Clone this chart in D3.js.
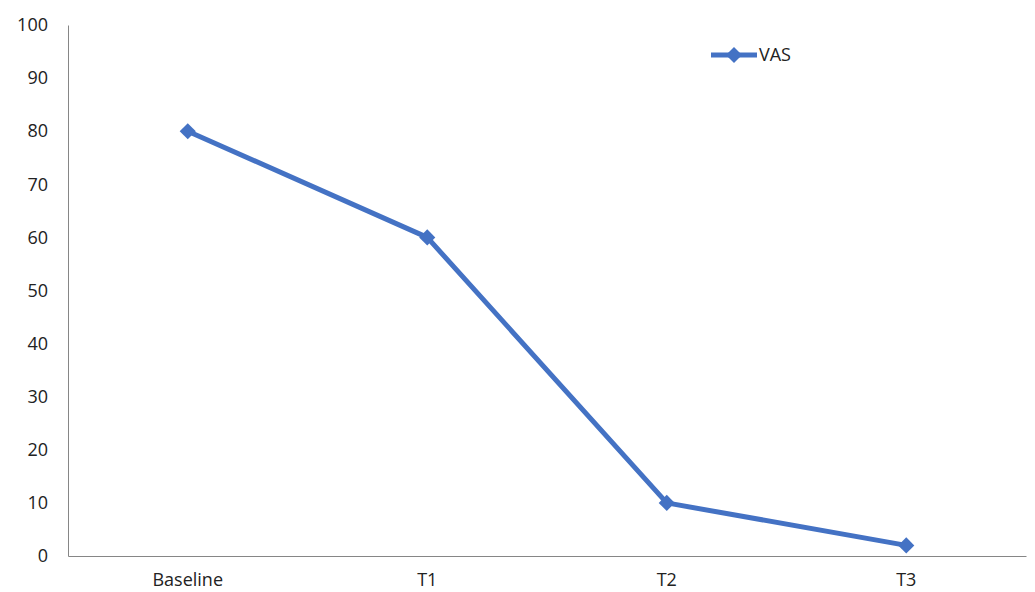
<!DOCTYPE html>
<html>
<head>
<meta charset="utf-8">
<script src="https://cdn.jsdelivr.net/npm/d3@7"></script>
<style>
  body { margin: 0; background: #fff; }
  svg text { font-family: "Open Sans", "Liberation Sans", sans-serif; fill: #222; }
</style>
</head>
<body>
<svg id="chart" width="1035" height="592"></svg>
<script>
const categories = ['Baseline', 'T1', 'T2', 'T3'];
const vasValues = [80, 60, 10, 2];
const yTicks = [0, 10, 20, 30, 40, 50, 60, 70, 80, 90, 100];
const seriesName = 'VAS';

const margin = {left: 68, right: 9, top: 25, bottom: 36};
const width = 1035 - margin.left - margin.right;
const height = 592 - margin.top - margin.bottom;
const blue = '#4472C4';

const svg = d3.select('svg#chart')
  .append('g')
  .attr('transform', 'translate(' + margin.left + ',' + margin.top + ')');

const x = d3.scaleBand()
  .domain(categories)
  .range([0, width]);

const y = d3.scaleLinear()
  .domain([0, 100])
  .range([height, 0]);

// y axis
const yAxis = svg.append('g')
  .call(d3.axisLeft(y).tickValues(yTicks).tickSize(0).tickPadding(20));
yAxis.select('.domain').attr('stroke', '#868686');
yAxis.selectAll('text').attr('font-size', '18px')
  .attr('font-family', '"Open Sans", "Liberation Sans", sans-serif').attr('fill', '#222');

// x axis
const xAxis = svg.append('g')
  .attr('transform', 'translate(0,' + height + ')')
  .call(d3.axisBottom(x).tickSize(0).tickPadding(17).tickSizeOuter(0));
xAxis.select('.domain').attr('stroke', '#868686');
xAxis.selectAll('text').attr('font-size', '18px')
  .attr('font-family', '"Open Sans", "Liberation Sans", sans-serif').attr('fill', '#222');

const data = categories.map((c, i) => ({cat: c, value: vasValues[i]}));

const line = d3.line()
  .x(d => x(d.cat) + x.bandwidth() / 2)
  .y(d => y(d.value));

svg.append('path')
  .datum(data)
  .attr('fill', 'none')
  .attr('stroke', blue)
  .attr('stroke-width', 5)
  .attr('stroke-linejoin', 'round')
  .attr('d', line);

const diamond = d3.symbol().type(d3.symbolSquare).size(130);

svg.selectAll('.marker')
  .data(data)
  .join('path')
  .attr('class', 'marker')
  .attr('d', diamond)
  .attr('fill', blue)
  .attr('transform', d => 'translate(' + (x(d.cat) + x.bandwidth() / 2) + ',' + y(d.value) + ') rotate(45)');

// legend
const legend = d3.select('svg#chart').append('g')
  .attr('transform', 'translate(711,55)');
legend.append('line')
  .attr('x1', 0).attr('x2', 46)
  .attr('stroke', blue).attr('stroke-width', 5);
legend.append('path')
  .attr('d', diamond)
  .attr('fill', blue)
  .attr('transform', 'translate(23,0) rotate(45)');
legend.append('text')
  .attr('x', 48).attr('dy', '0.35em')
  .attr('font-size', '18px')
  .text(seriesName);
</script>
</body>
</html>
